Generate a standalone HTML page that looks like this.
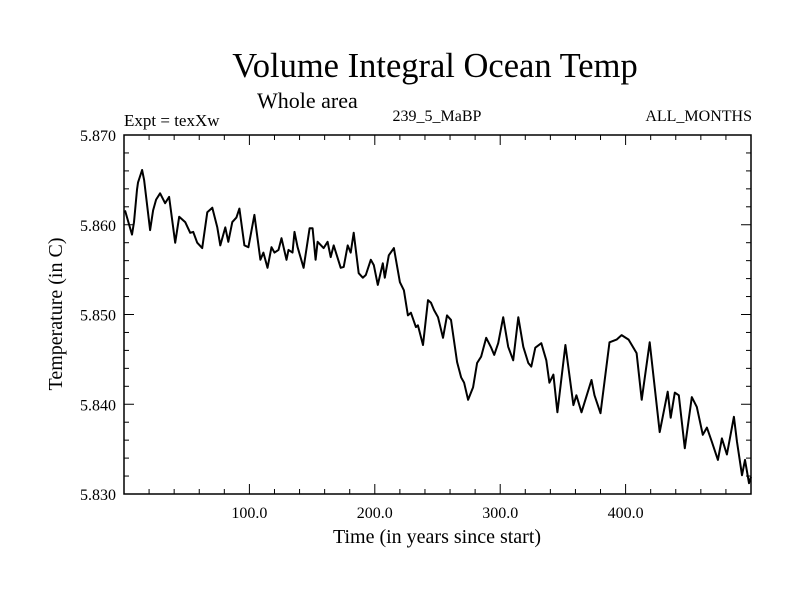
<!DOCTYPE html>
<html><head><meta charset="utf-8"><style>
body{margin:0;background:#fff}
svg text{font-family:"Liberation Serif",serif;fill:#000}
</style></head><body>
<svg id="chart" width="800" height="600" viewBox="0 0 800 600">
<text x="435" y="77" font-size="34.5" text-anchor="middle">Volume Integral Ocean Temp</text>
<text x="257" y="108" font-size="22">Whole area</text>
<text x="124" y="126" font-size="17">Expt = texXw</text>
<text x="437" y="121" font-size="16" text-anchor="middle">239_5_MaBP</text>
<text x="752" y="121" font-size="16" text-anchor="end">ALL_MONTHS</text>
<text transform="translate(62,314) rotate(-90)" font-size="20" text-anchor="middle">Temperature (in C)</text>
<text x="437" y="543" font-size="20" text-anchor="middle">Time (in years since start)</text>
<g id="axes"></g>
<g id="plot"></g>
</svg>
<script>
const years=[0.8,6.4,8,10.4,11.2,14.4,16,20.8,23.2,25.6,28.8,32.8,36,40.8,44,48.8,52.8,55.2,58.4,62.4,66.4,70.4,74.4,76.8,80.8,83.2,86.4,89.6,92,96,99.2,104,108.8,111.2,114.4,117.6,120,123.2,125.6,129.6,131.2,134.4,136,138.4,143.2,148,150.4,152.8,154.4,159.2,162.4,164.8,167.2,172.8,175.2,178.4,180.8,183.2,187.2,190.4,192.8,196.8,199.2,202.4,206.4,208,211.2,215.2,220,223.2,226.4,228.8,232.8,234.4,238.4,242.4,244.8,247.2,250.4,254.4,257.6,260.8,265.6,268.8,271.2,274.4,278.4,281.6,284.8,288.8,292.8,295.2,298.4,302.4,306.4,310.4,314.4,318.4,322.4,324.8,328,332.8,336.8,339.2,342.4,345.6,352,358.4,360.8,364.8,372.8,375.2,380,387.2,392.8,396.8,402.4,408.8,412.8,419.2,427.2,433.6,436,439.2,442.4,447.2,452.8,456.8,461.6,464.8,468.8,473.6,476.8,480.8,486.4,488.8,492.8,495.2,498.4,500];
const temps=[5.8616,5.8589,5.8603,5.8639,5.8647,5.8661,5.8650,5.8594,5.8616,5.8628,5.8635,5.8624,5.8631,5.8580,5.8609,5.8603,5.8591,5.8592,5.8580,5.8574,5.8614,5.8619,5.8597,5.8577,5.8597,5.8581,5.8603,5.8608,5.8618,5.8577,5.8575,5.8611,5.8561,5.8569,5.8552,5.8575,5.8569,5.8572,5.8585,5.8561,5.8572,5.8569,5.8592,5.8575,5.8552,5.8596,5.8596,5.8561,5.8581,5.8574,5.8581,5.8564,5.8577,5.8552,5.8553,5.8577,5.8569,5.8591,5.8546,5.8541,5.8544,5.8561,5.8555,5.8533,5.8557,5.8541,5.8566,5.8574,5.8536,5.8527,5.8499,5.8502,5.8486,5.8488,5.8466,5.8516,5.8513,5.8505,5.8497,5.8474,5.8499,5.8494,5.8447,5.8430,5.8424,5.8405,5.8419,5.8446,5.8453,5.8474,5.8463,5.8455,5.8468,5.8497,5.8464,5.8449,5.8497,5.8464,5.8446,5.8442,5.8463,5.8468,5.8449,5.8424,5.8433,5.8391,5.8466,5.8399,5.8410,5.8391,5.8427,5.8410,5.8390,5.8469,5.8472,5.8477,5.8472,5.8457,5.8405,5.8469,5.8369,5.8414,5.8385,5.8413,5.8410,5.8351,5.8408,5.8397,5.8366,5.8374,5.8358,5.8338,5.8362,5.8344,5.8386,5.8358,5.8321,5.8338,5.8312,5.8319];
const xTicks=[100,200,300,400];
const xTickLabels=["100.0","200.0","300.0","400.0"];
const yTicks=[5.83,5.84,5.85,5.86,5.87];
const yTickLabels=["5.830","5.840","5.850","5.860","5.870"];
const X0=124,X1=751,Y0=494,Y1=135,xMin=0,xMax=500,yMin=5.83,yMax=5.87;
const sx=v=>X0+(v-xMin)/(xMax-xMin)*(X1-X0);
const sy=v=>Y0-(v-yMin)/(yMax-yMin)*(Y0-Y1);
const NS='http://www.w3.org/2000/svg';
const axes=document.getElementById('axes'),plot=document.getElementById('plot');
function mk(tag,attrs,parent){const e=document.createElementNS(NS,tag);for(const k in attrs)e.setAttribute(k,attrs[k]);parent.appendChild(e);return e;}
const frame=mk('rect',{x:X0,y:Y1,width:X1-X0,height:Y0-Y1,fill:'none',stroke:'#000','stroke-width':1.5},axes);


for(let v=0;v<=500;v+=20){const len=(v%100===0)?10:5;const x=sx(v);
 const t=mk('line',{x1:x,y1:Y0,x2:x,y2:Y0-len,stroke:'#000'},axes);
 
 
 mk('line',{x1:x,y1:Y1,x2:x,y2:Y1+len,stroke:'#000'},axes);}
for(let i=0;i<=20;i++){const v=5.83+i*0.002;const len=(i%5===0)?10:5;const y=sy(v);
 const t=mk('line',{x1:X0,y1:y,x2:X0+len,y2:y,stroke:'#000'},axes);
 
 
 mk('line',{x1:X1,y1:y,x2:X1-len,y2:y,stroke:'#000'},axes);}
xTicks.forEach((v,i)=>{const t=mk('text',{x:sx(v),y:Y0+24,'font-size':16,'text-anchor':'middle'},axes);t.textContent=xTickLabels[i];
 
 });
yTicks.forEach((v,i)=>{const t=mk('text',{x:X0-8,y:sy(v)+6,'font-size':16,'text-anchor':'end'},axes);t.textContent=yTickLabels[i];
 
 });
const pts=years.map((y,i)=>sx(y).toFixed(1)+','+sy(temps[i]).toFixed(1)).join(' ');
const line=mk('polyline',{points:pts,fill:'none',stroke:'#000','stroke-width':2,'stroke-linejoin':'round'},plot);


</script>
</body></html>
